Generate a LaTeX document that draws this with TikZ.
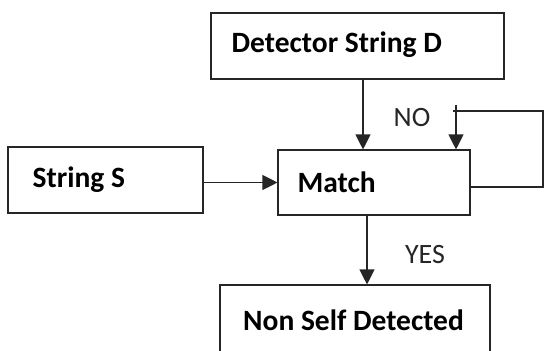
\documentclass[tikz,border=0pt]{standalone}
\usepackage{fontspec}
\setmainfont{Carlito}
\usetikzlibrary{arrows.meta}
\tikzset{
  box/.style={draw=black!85, line width=1.1pt, rectangle, inner sep=0pt},
  lbl/.style={font=\fontsize{29.5}{34}\selectfont\bfseries, inner sep=0pt, anchor=west},
  tag/.style={font=\fontsize{28}{32}\selectfont, text=black!85, inner sep=0pt},
  arr/.style={draw=black!85, line width=1.1pt, -{Triangle[length=15pt,width=15pt]}},
  wire/.style={draw=black!85, line width=1.1pt}
}
\begin{document}
\begin{tikzpicture}[x=1pt,y=-1pt]
\clip (0,0) rectangle (545,350);
\fill[white] (0,0) rectangle (545,350);

% boxes
\node[box, minimum width=293pt, minimum height=66pt] (det) at (357.5,46) {};
\node[box, minimum width=195pt, minimum height=66pt] (str) at (105.5,180) {};
\node[box, minimum width=192pt, minimum height=65pt] (match) at (374,182.5) {};
\node[box, minimum width=270pt, minimum height=100pt] (nsd) at (355,335) {};

% box labels
\node[lbl] (detl) at ([xshift=21pt,yshift=1pt]det.west) {Detector String D};
\node[lbl] (strl) at ([xshift=25pt]str.west) {String S};
\node[lbl] (matchl) at ([xshift=20pt]match.west) {Match};
\node[lbl] (nsdl) at (243,320) {Non Self Detected};

% branch labels
\node[tag] (no) at (412,118) {NO};
\node[tag] (yes) at (425,255) {YES};

% connectors
\coordinate (dx) at (363,0);
\coordinate (yx) at (367,0);
\coordinate (fb) at (0,187);
\coordinate (lr) at (543,111);
\coordinate (ll) at (453,111);
\coordinate (lt) at (456,105);

\draw[arr] (det.south -| dx) -- (match.north -| dx);
\draw[arr] (str.east |- match.center) -- (match.west);
\draw[arr] (match.south -| yx) -- (nsd.north -| yx);
\draw[wire] (match.east |- fb) -- (lr |- fb) -- (lr) -- (ll);
\draw[arr] (lt) -- (match.north -| lt);
\end{tikzpicture}
\end{document}
